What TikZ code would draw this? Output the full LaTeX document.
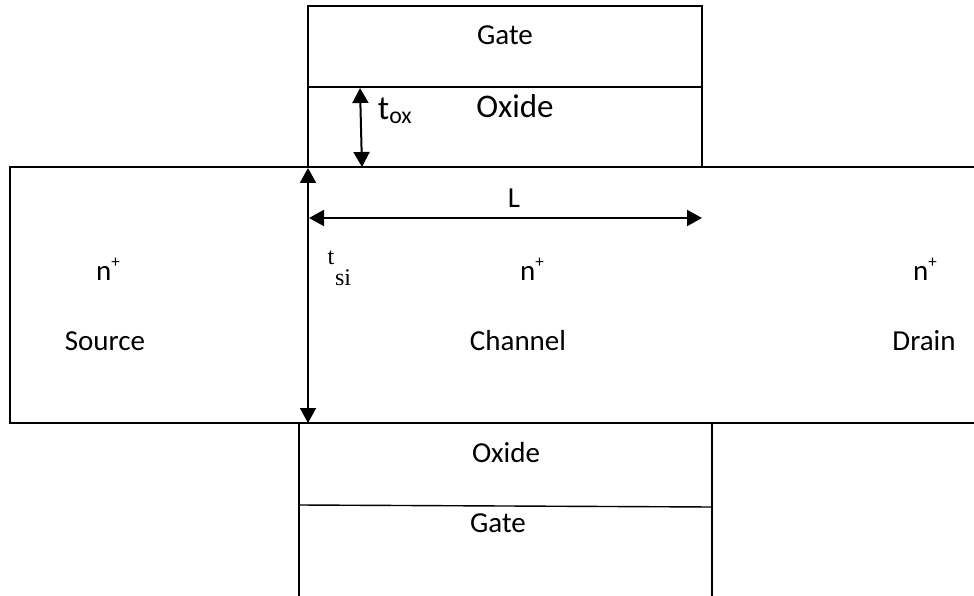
\documentclass[tikz,border=0pt]{standalone}
\usepackage{fontspec}
\setmainfont{Carlito}
\newfontfamily\serifpart{Liberation Serif}
\usetikzlibrary{arrows.meta}
\tikzset{
 ln/.style={draw=black,line width=1.4pt},
 dim/.style={draw=black,line width=2pt,{Triangle[length=15pt,width=16pt]}-{Triangle[length=15pt,width=16pt]}},
 lab/.style={inner sep=0pt,font=\fontsize{29}{32}\selectfont,text=black},
 nlab/.style={lab,anchor=base}
}
\newcommand{\nplus}{n\raisebox{13pt}{\fontsize{17}{18}\selectfont +}}
\begin{document}
\begin{tikzpicture}[x=1pt,y=-1pt]
\useasboundingbox (0,0) rectangle (974,596);
\coordinate (gtl) at (308,6); \coordinate (gtr) at (702,6);
\coordinate (gml) at (308,87); \coordinate (gmr) at (702,87);
\coordinate (obl) at (308,167); \coordinate (obr) at (702,167);
\coordinate (sl) at (10,167); \coordinate (sr) at (974,167);
\coordinate (bl) at (10,423); \coordinate (br) at (974,423);
\coordinate (o2l) at (299,423); \coordinate (o2r) at (712,423);
\coordinate (g2l) at (299,505); \coordinate (g2r) at (712,507);
\coordinate (e2l) at (299,596); \coordinate (e2r) at (712,596);
\draw[ln] (obl) -- (gtl) -- (gtr) -- (obr);
\draw[ln] (gml) -- (gmr);
\draw[ln] (sr) -- (sl) -- (bl) -- (br);
\draw[ln] (o2l) -- (e2l);
\draw[ln] (o2r) -- (e2r);
\draw[ln] (g2l) -- (g2r);
\coordinate (ta) at (360,88); \coordinate (tb) at (362,167);
\draw[dim] (ta) -- (tb);
\coordinate (sa) at (308,168); \coordinate (sb) at (308,423);
\draw[dim] (sa) -- (sb);
\coordinate (la) at (309,218); \coordinate (lb) at (702,218);
\draw[dim] (la) -- (lb);
\node[lab] (gate1) at (505,35) {Gate};
\node[lab,font=\fontsize{33}{36}\selectfont] (ox1) at (515,106) {Oxide};
\node[lab,font=\fontsize{34}{36}\selectfont] (tox) at (395,111) {t\textsubscript{ox}};
\node[lab] (L) at (514,198) {L};
\node[nlab] (n1) at (108,280) {\nplus};
\node[nlab] (n2) at (532,280) {\nplus};
\node[nlab] (n3) at (925,280) {\nplus};
\node[lab] (src) at (105,341) {Source};
\node[lab] (ch) at (518,341) {Channel};
\node[lab] (dr) at (924,341) {Drain};
\node[lab] (ox2) at (506,453) {Oxide};
\node[lab] (g2) at (498,523) {Gate};
\node[lab,font=\serifpart\fontsize{24}{26}\selectfont] (t) at (331,258) {t};
\node[lab,font=\serifpart\fontsize{24}{26}\selectfont] (si) at (343,278) {si};
\end{tikzpicture}
\end{document}
